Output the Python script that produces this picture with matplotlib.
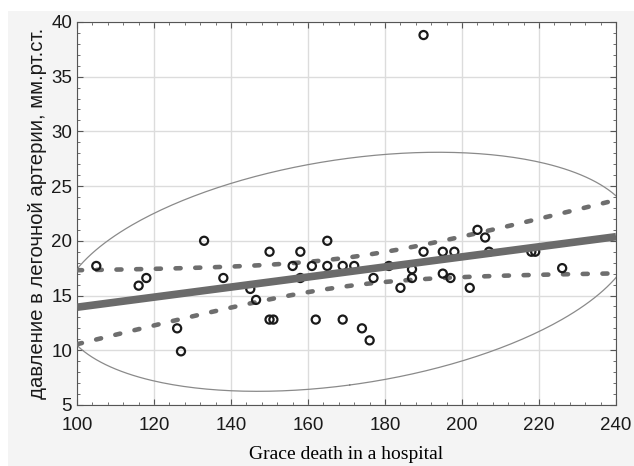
import numpy as np
import matplotlib
matplotlib.use("Agg")
import matplotlib.pyplot as plt
from matplotlib.ticker import MultipleLocator
from matplotlib.patches import Rectangle

# данные
grace = [105, 116, 118, 126, 127, 133, 138, 145, 146.5, 150, 150, 151,
         156, 158, 158, 161, 162, 165, 165, 169, 169, 172, 174, 176,
         177, 181, 184, 187, 187, 190, 190, 195, 195, 197, 198, 202,
         204, 206, 207, 218, 219, 226]
pressure = [17.7, 15.9, 16.6, 12.0, 9.9, 20.0, 16.6, 15.6, 14.6, 19.0, 12.8, 12.8,
            17.7, 19.0, 16.6, 17.7, 12.8, 20.0, 17.7, 17.7, 12.8, 17.7, 12.0, 10.9,
            16.6, 17.7, 15.7, 17.4, 16.6, 38.8, 19.0, 19.0, 17.0, 16.6, 19.0, 15.7,
            21.0, 20.3, 19.0, 19.0, 19.0, 17.5]

x_ticks = [100, 120, 140, 160, 180, 200, 220, 240]
y_ticks = [5, 10, 15, 20, 25, 30, 35, 40]

x = np.array(grace, dtype=float)
y = np.array(pressure, dtype=float)
n = len(x)

# линейная регрессия и 95% доверительный интервал
slope, intercept = np.polyfit(x, y, 1)
xs = np.linspace(100, 240, 300)
yhat = intercept + slope * xs
resid = y - (intercept + slope * x)
s = np.sqrt(np.sum(resid ** 2) / (n - 2))
sxx = np.sum((x - x.mean()) ** 2)
t = 2.02
half = t * s * np.sqrt(1.0 / n + (xs - x.mean()) ** 2 / sxx)

# 95% эллипс
cov = np.cov(x, y)
vals, vecs = np.linalg.eigh(cov)
theta = np.linspace(0, 2 * np.pi, 400)
circle = np.vstack([np.cos(theta), np.sin(theta)])
ell = vecs @ (np.sqrt(vals * 6.3)[:, None] * circle)
ex = ell[0] + x.mean()
ey = ell[1] + y.mean()

fig = plt.figure(figsize=(6.34, 4.66), dpi=100, facecolor='#f4f4f4')
# белая рамка сверху и слева
fig.patches.append(Rectangle((0, 1 - 11 / 466), 1, 11 / 466, transform=fig.transFigure,
                             facecolor='white', edgecolor='none', zorder=0))
fig.patches.append(Rectangle((0, 0), 8 / 634, 1, transform=fig.transFigure,
                             facecolor='white', edgecolor='none', zorder=0))

ax = fig.add_axes([0.1215, 0.131, 0.8502, 0.822])
ax.set_facecolor('white')

ax.plot(ex, ey, color='#8a8a8a', linewidth=0.9, zorder=2)
dash = (0, (1.1, 3.2))
ax.plot(xs, yhat + half, color='#6e6e6e', linewidth=3.3, linestyle=dash,
        dash_capstyle='round', zorder=3)
ax.plot(xs, yhat - half, color='#6e6e6e', linewidth=3.3, linestyle=dash,
        dash_capstyle='round', zorder=3)
ax.scatter(x, y, s=34, facecolors='none', edgecolors='#1a1a1a', linewidths=1.6, zorder=4)
ax.plot(xs, yhat, color='#6b6b6b', linewidth=5.5, zorder=5, solid_capstyle='butt')

ax.set_xlim(100, 240)
ax.set_ylim(5, 40)
ax.set_xticks(x_ticks)
ax.set_yticks(y_ticks)
ax.xaxis.set_minor_locator(MultipleLocator(4))
ax.yaxis.set_minor_locator(MultipleLocator(1))
ax.grid(True, which='major', color='#dcdcdc', linewidth=1.0)
ax.set_axisbelow(True)
ax.tick_params(which='both', direction='in', top=True, right=True, colors='#555555',
               labelcolor='#1a1a1a')
ax.tick_params(which='major', length=4, labelsize=13.5)
ax.tick_params(axis='x', which='major', pad=8.5)
ax.tick_params(which='minor', length=2.5)
for lab in ax.get_xticklabels() + ax.get_yticklabels():
    lab.set_family('Liberation Sans')
for sp in ax.spines.values():
    sp.set_color('#555555')

ax.set_xlabel('Grace death in a hospital', family='Liberation Serif', fontsize=14,
              labelpad=9)
ax.set_ylabel('давление в легочной артерии, мм.рт.ст.', family='Liberation Sans',
              fontsize=14.7, labelpad=3, color='#1a1a1a')

fig.savefig('out.png', dpi=100, facecolor=fig.get_facecolor())
